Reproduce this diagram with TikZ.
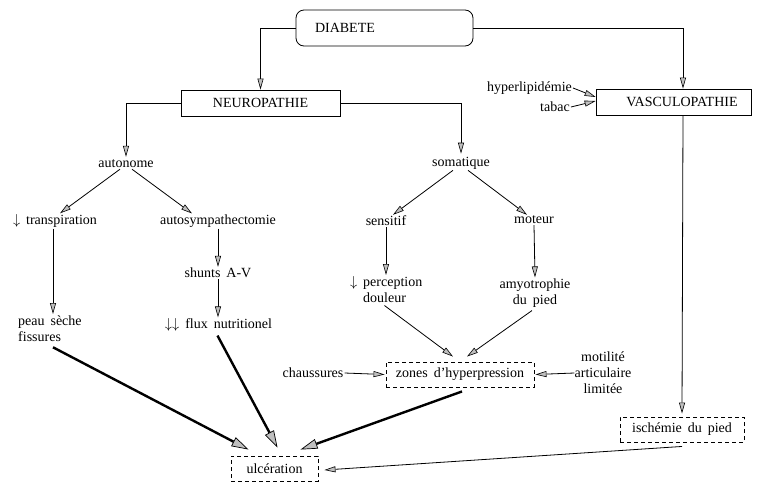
\documentclass[tikz,border=0pt]{standalone}
\usepackage{fontspec}
\setmainfont[WordSpace=1.7]{Liberation Serif}
\usetikzlibrary{arrows.meta,calc}
\begin{document}
\begin{tikzpicture}[x=1pt,y=-1pt,
  every node/.style={font=\fontsize{14}{16}\selectfont, inner sep=1pt},
  solidbox/.style={draw, line width=0.8pt, minimum height=26pt, inner sep=0pt},
  dbox/.style={draw, line width=0.9pt, dash pattern=on 4pt off 3pt, minimum height=25pt, inner sep=0pt},
  tip/.style={-{Triangle[length=11pt,width=6pt,fill=gray!50,line width=0.6pt]}},
  thin/.style={line width=0.8pt, tip},
  thick/.style={line width=2.4pt, -{Triangle[length=17pt,width=10pt,fill=gray!50,line width=0.7pt]}}
]
\useasboundingbox (0,0) rectangle (779,485);

% main boxes
\node[solidbox, rounded corners=8pt, minimum height=36pt, text width=139pt, inner xsep=19pt, align=left] (diab) at (384.5,28) {DIABETE};
\node[solidbox, minimum width=159pt] (neuro) at (260.5,103) {NEUROPATHIE};
\node[solidbox, minimum width=155pt, text width=155pt, align=center] (vasc) at (673.5,102) {\hspace*{17pt}VASCULOPATHIE};

% text nodes
\node (hyper) at (529.5,88) {hyperlipidémie};
\node (tabac) at (555,107) {tabac};
\node (auto) at (126,164) {autonome};
\node (soma) at (461,163) {somatique};
\node (transp) at (55,221) {$\downarrow$ transpiration};
\node (autosym) at (218,221) {autosympathectomie};
\node (sens) at (386,221) {sensitif};
\node (mot) at (534,220) {moteur};
\node[anchor=north west, align=left, inner sep=0pt] (peau) at (18,316) {peau sèche\\fissures};
\node (shunts) at (218,273) {shunts A-V};
\node (flux) at (218.5,325) {$\downarrow\downarrow$ flux nutritionel};
\node[anchor=north west, align=left, inner sep=0pt] (percep) at (363,276) {\llap{$\downarrow$\ }perception\\douleur};
\node[align=center, inner sep=0pt] (amyo) at (535,293) {amyotrophie\\du pied};
\node[dbox, minimum width=148pt] (zones) at (460,374.5) {zones d'hyperpression};
\node (chauss) at (313,373) {chaussures};
\node[align=center, inner sep=0pt] (motil) at (603,373) {motilité\\articulaire\\limitée};
\node[dbox, minimum width=124pt] (isch) at (682,429.5) {ischémie du pied};
\node[dbox, minimum width=87pt] (ulc) at (274.5,468.5) {ulcération};

% tree connectors
\draw[thin] (diab.west) -| (neuro.north);
\draw[thin] (diab.east) -| ([xshift=9.5pt]vasc.north);
\draw[thin] (neuro.west) -| ([yshift=2pt]auto.north);
\draw[thin] (neuro.east) -| ([yshift=2pt]soma.north);
\draw[thin] (hyper.east) -- ([yshift=5pt]vasc.west);
\draw[thin] (tabac.east) -- ([yshift=1pt]vasc.west);

\draw[thin] ([xshift=-6pt]auto.south) -- ([xshift=5pt]transp.north);
\draw[thin] ([xshift=6pt]auto.south) -- ([xshift=-26pt]autosym.north);
\draw[thin] ([xshift=-8pt]soma.south) -- ([xshift=7pt]sens.north);
\draw[thin] ([xshift=7pt]soma.south) -- ([xshift=-7pt]mot.north);

\draw[thin] ([xshift=-2pt]transp.south) -- ([xshift=35pt,yshift=2pt]peau.north west);
\draw[thin] (autosym.south) -- (shunts.north);
\draw[thin] (shunts.south) -- ([xshift=-0.5pt]flux.north);
\draw[thin] (sens.south) -- ([xshift=23pt,yshift=1pt]percep.north west);
\draw[thin] (mot.south) -- ([yshift=1pt]amyo.north);

\draw[thin] ([xshift=-38pt,yshift=-3pt]percep.south east) -- ([xshift=-7pt,yshift=5pt]zones.north);
\draw[thin] ([xshift=-3pt,yshift=-3pt]amyo.south) -- ([xshift=7pt,yshift=5pt]zones.north);
\draw[thin] (chauss.east) -- ([xshift=-1pt]zones.west);
\draw[thin] (motil.west) -- ([xshift=1pt]zones.east);
\draw[thin] ([xshift=9.5pt]vasc.south) -- ([yshift=3pt]isch.north);

% to ulceration
\draw[thick] ([xshift=35pt,yshift=-5pt]peau.south west) -- ([xshift=-26pt,yshift=6pt]ulc.north);
\draw[thick] ([xshift=-1pt,yshift=-3pt]flux.south) -- ([xshift=3pt,yshift=8pt]ulc.north);
\draw[thick] ([xshift=2pt,yshift=-4pt]zones.south) -- ([xshift=26pt,yshift=6pt]ulc.north);
\draw[thin] ([yshift=-4pt]isch.south) -- ([xshift=6pt,yshift=-1.5pt]ulc.east);
\end{tikzpicture}
\end{document}
